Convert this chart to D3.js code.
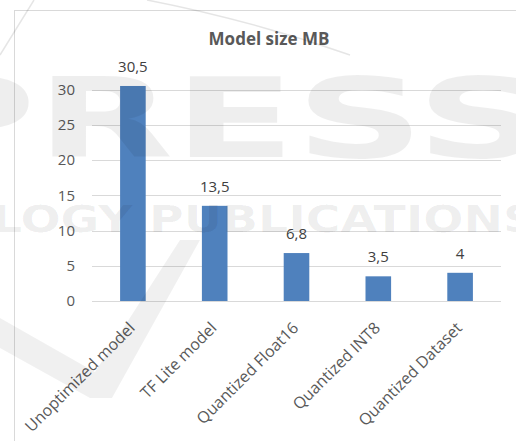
<!DOCTYPE html>
<html>
<head>
<meta charset="utf-8">
<script src="https://cdn.jsdelivr.net/npm/d3@7"></script>
<style>
  html, body { margin: 0; padding: 0; background: #fff; }
  svg { display: block; }
</style>
</head>
<body>
<svg id="chart" width="516" height="441"></svg>
<script>
// Model sizes in MB
const categories = ["Unoptimized model", "TF Lite model", "Quantized Float16", "Quantized INT8", "Quantized Dataset"];
const sizes = [30.5, 13.5, 6.8, 3.5, 4];
const sizeLabels = ["30,5", "13,5", "6,8", "3,5", "4"];
const yTicks = [0, 5, 10, 15, 20, 25, 30];
const chartTitle = "Model size MB";

const svg = d3.select("#chart");
const font = "'Open Sans', 'Liberation Sans', sans-serif";

// chart frame
svg.append("rect")
  .attr("x", 14.5).attr("y", 10.5)
  .attr("width", 530).attr("height", 450)
  .attr("fill", "#fff").attr("stroke", "#d9d9d9");

const x = d3.scaleBand()
  .domain(categories)
  .range([92, 501])
  .paddingInner(0.687)
  .paddingOuter(0.3435);

const y = d3.scaleLinear()
  .domain([0, 30])
  .range([301, 89.5]);

// gridlines
svg.append("g")
  .selectAll("line")
  .data(yTicks)
  .join("line")
  .attr("x1", 92).attr("x2", 501)
  .attr("y1", d => Math.round(y(d)) + 0.5)
  .attr("y2", d => Math.round(y(d)) + 0.5)
  .attr("stroke", "#d9d9d9").attr("stroke-width", 1);

// y axis labels
const yAxis = svg.append("g")
  .attr("transform", "translate(92,0)")
  .call(d3.axisLeft(y).tickValues(yTicks).tickSize(0).tickPadding(17));
yAxis.select(".domain").remove();
yAxis.selectAll("text")
  .attr("font-family", font).attr("font-size", 15).attr("fill", "#595959");

// bars
svg.append("g")
  .selectAll("rect")
  .data(sizes)
  .join("rect")
  .attr("x", (d, i) => x(categories[i]))
  .attr("y", d => y(d))
  .attr("width", x.bandwidth())
  .attr("height", d => y(0) - y(d))
  .attr("fill", "#4f81bd");

// value labels
svg.append("g")
  .selectAll("text")
  .data(sizes)
  .join("text")
  .attr("x", (d, i) => x(categories[i]) + x.bandwidth() / 2)
  .attr("y", d => y(d) - 14)
  .attr("text-anchor", "middle")
  .attr("font-family", font).attr("font-size", 15).attr("fill", "#404040")
  .text((d, i) => sizeLabels[i]);

// category labels, rotated
const xAxis = svg.append("g")
  .attr("transform", `translate(0,${y(0)})`)
  .call(d3.axisBottom(x).tickSize(0).tickPadding(0));
xAxis.select(".domain").remove();
xAxis.selectAll("text")
  .attr("font-family", font).attr("font-size", 16).attr("fill", "#595959")
  .attr("text-anchor", "end")
  .attr("dy", 0)
  .attr("transform", "translate(3,28) rotate(-45)");

// title
svg.append("text")
  .attr("x", 269).attr("y", 45)
  .attr("text-anchor", "middle")
  .attr("font-family", font).attr("font-size", 17).attr("font-weight", "bold")
  .attr("fill", "#595959")
  .text(chartTitle);

// publisher watermark overlay
const wm = svg.append("g").attr("pointer-events", "none");
wm.append("text")
  .attr("x", -95).attr("y", 157)
  .attr("fill", "#000").attr("fill-opacity", 0.065)
  .attr("font-family", "'DejaVu Sans', sans-serif").attr("font-weight", "bold")
  .attr("font-size", 110)
  .attr("textLength", 640).attr("lengthAdjust", "spacingAndGlyphs")
  .text("PRESS");
wm.append("text")
  .attr("x", -8).attr("y", 232)
  .attr("fill", "#000").attr("fill-opacity", 0.065)
  .attr("font-family", "'DejaVu Sans', sans-serif").attr("font-weight", "bold")
  .attr("font-size", 37)
  .attr("textLength", 545).attr("lengthAdjust", "spacingAndGlyphs")
  .text("LOGY PUBLICATIONS");
wm.append("path")
  .attr("fill", "#000").attr("fill-opacity", 0.06)
  .attr("d", "M0,318 L95,372 L180,240 L200,240 L112,398 L90,398 L0,348 Z");
wm.append("path")
  .attr("fill", "none").attr("stroke", "#000").attr("stroke-opacity", 0.1).attr("stroke-width", 1.5)
  .attr("d", "M34,0 L0,55 M147,0 Q250,20 350,55");
</script>
</body>
</html>
